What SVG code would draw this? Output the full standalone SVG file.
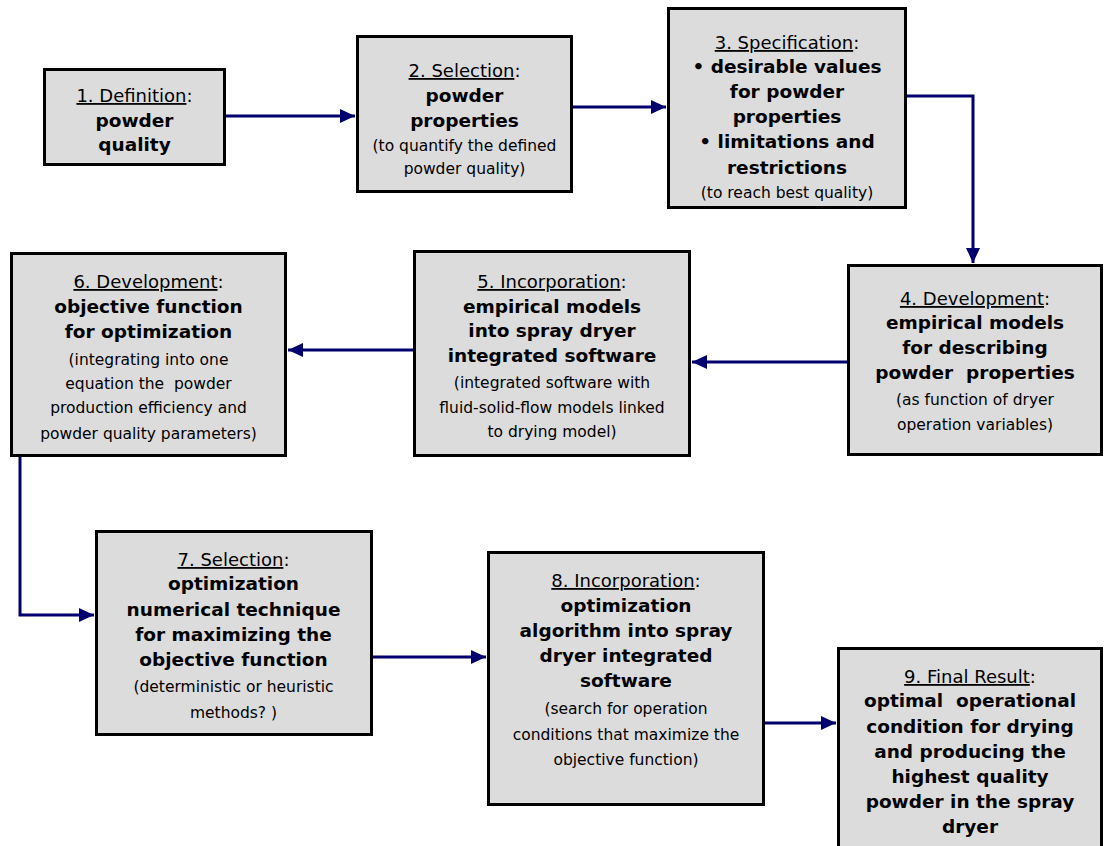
<svg xmlns="http://www.w3.org/2000/svg" width="1104" height="846" viewBox="0 0 1104 846">
<style>
.box{fill:#dcdcdc;stroke:#000;stroke-width:3}
text{font-family:"DejaVu Sans","Liberation Sans",sans-serif;text-anchor:middle;fill:#000}
.t{font-size:18px}
.b{font-size:18.5px;font-weight:bold}
.s{font-size:15.5px}
.u{text-decoration:underline}
.c{fill:none;stroke:#00006e;stroke-width:3}
</style>
<defs>
<marker id="ah" markerUnits="userSpaceOnUse" markerWidth="16" markerHeight="16" viewBox="0 0 16 16" refX="15" refY="8" orient="auto">
<path d="M0,1 L15,8 L0,15 Z" fill="#00006e"/>
</marker>
</defs>
<g id="connectors">
<path class="c" d="M226,116 H355" marker-end="url(#ah)"/>
<path class="c" d="M573,107 H666" marker-end="url(#ah)"/>
<path class="c" d="M907,96 H973 V263" marker-end="url(#ah)"/>
<path class="c" d="M847,362 H692" marker-end="url(#ah)"/>
<path class="c" d="M413,350 H288" marker-end="url(#ah)"/>
<path class="c" d="M20,457 V615 H94" marker-end="url(#ah)"/>
<path class="c" d="M372,657 H486" marker-end="url(#ah)"/>
<path class="c" d="M765,723 H836" marker-end="url(#ah)"/>
</g>
<g id="node1">
<rect class="box" x="44.5" y="69.5" width="180" height="95"/>
<text class="t" x="134.5" y="102"><tspan class="u">1. Definition</tspan>:</text>
<text class="b" x="134.5" y="127">powder</text>
<text class="b" x="134.5" y="151">quality</text>
</g>
<g id="node2">
<rect class="box" x="357.5" y="36.5" width="214" height="155"/>
<text class="t" x="464.5" y="77"><tspan class="u">2. Selection</tspan>:</text>
<text class="b" x="464.5" y="102">powder</text>
<text class="b" x="464.5" y="127">properties</text>
<text class="s" x="464.5" y="151">(to quantify the defined</text>
<text class="s" x="464.5" y="174">powder quality)</text>
</g>
<g id="node3">
<rect class="box" x="668.5" y="8.5" width="237" height="199"/>
<text class="t" x="787" y="49"><tspan class="u">3. Specification</tspan>:</text>
<text class="b" x="787" y="73">• desirable values</text>
<text class="b" x="787" y="98">for powder</text>
<text class="b" x="787" y="123">properties</text>
<text class="b" x="787" y="148">• limitations and</text>
<text class="b" x="787" y="174">restrictions</text>
<text class="s" x="787" y="198">(to reach best quality)</text>
</g>
<g id="node4">
<rect class="box" x="848.5" y="265.5" width="253" height="189"/>
<text class="t" x="975" y="305"><tspan class="u">4. Development</tspan>:</text>
<text class="b" x="975" y="329">empirical models</text>
<text class="b" x="975" y="354">for describing</text>
<text class="b" x="975" y="379" xml:space="preserve">powder  properties</text>
<text class="s" x="975" y="405">(as function of dryer</text>
<text class="s" x="975" y="430">operation variables)</text>
</g>
<g id="node5">
<rect class="box" x="414.5" y="251.5" width="275" height="204"/>
<text class="t" x="552" y="288"><tspan class="u">5. Incorporation</tspan>:</text>
<text class="b" x="552" y="313">empirical models</text>
<text class="b" x="552" y="337">into spray dryer</text>
<text class="b" x="552" y="362">integrated software</text>
<text class="s" x="552" y="388">(integrated software with</text>
<text class="s" x="552" y="413">fluid-solid-flow models linked</text>
<text class="s" x="552" y="437">to drying model)</text>
</g>
<g id="node6">
<rect class="box" x="11.5" y="253.5" width="274" height="202"/>
<text class="t" x="148.5" y="288"><tspan class="u">6. Development</tspan>:</text>
<text class="b" x="148.5" y="313">objective function</text>
<text class="b" x="148.5" y="338">for optimization</text>
<text class="s" x="148.5" y="365">(integrating into one</text>
<text class="s" x="148.5" y="389" xml:space="preserve">equation the  powder</text>
<text class="s" x="148.5" y="413">production efficiency and</text>
<text class="s" x="148.5" y="439">powder quality parameters)</text>
</g>
<g id="node7">
<rect class="box" x="96.5" y="531.5" width="275" height="203"/>
<text class="t" x="233.5" y="566"><tspan class="u">7. Selection</tspan>:</text>
<text class="b" x="233.5" y="590">optimization</text>
<text class="b" x="233.5" y="616">numerical technique</text>
<text class="b" x="233.5" y="641">for maximizing the</text>
<text class="b" x="233.5" y="666">objective function</text>
<text class="s" x="233.5" y="692">(deterministic or heuristic</text>
<text class="s" x="233.5" y="718">methods? )</text>
</g>
<g id="node8">
<rect class="box" x="488.5" y="552.5" width="275" height="252"/>
<text class="t" x="626" y="587"><tspan class="u">8. Incorporation</tspan>:</text>
<text class="b" x="626" y="612">optimization</text>
<text class="b" x="626" y="637">algorithm into spray</text>
<text class="b" x="626" y="662">dryer integrated</text>
<text class="b" x="626" y="687">software</text>
<text class="s" x="626" y="714">(search for operation</text>
<text class="s" x="626" y="740">conditions that maximize the</text>
<text class="s" x="626" y="765">objective function)</text>
</g>
<g id="node9">
<rect class="box" x="838.5" y="648.5" width="263" height="220"/>
<text class="t" x="970" y="683"><tspan class="u">9. Final Result</tspan>:</text>
<text class="b" x="970" y="707" xml:space="preserve">optimal  operational</text>
<text class="b" x="970" y="733">condition for drying</text>
<text class="b" x="970" y="758">and producing the</text>
<text class="b" x="970" y="783">highest quality</text>
<text class="b" x="970" y="808">powder in the spray</text>
<text class="b" x="970" y="833">dryer</text>
</g>
</svg>
